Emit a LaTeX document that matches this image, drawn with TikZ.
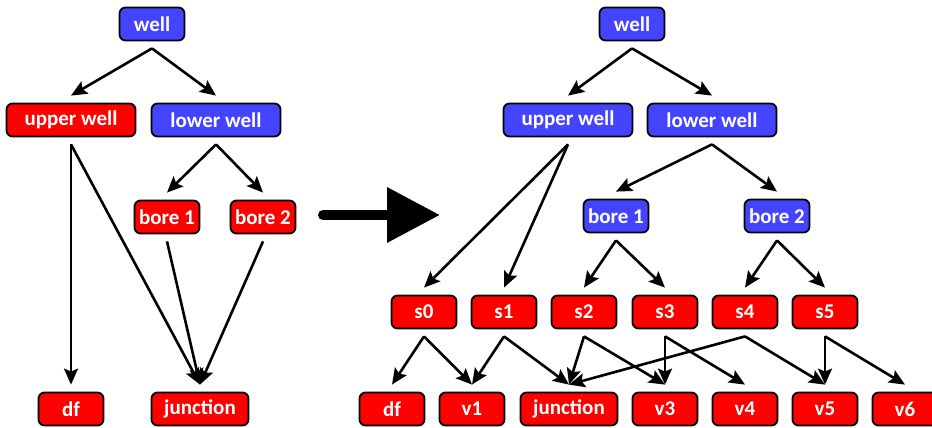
\documentclass[tikz,border=0pt]{standalone}
\usepackage{fontspec}
\setmainfont{Carlito}
\usetikzlibrary{arrows.meta, positioning}
\definecolor{boxblue}{RGB}{68,68,255}
\tikzstyle{box} = [rectangle, rounded corners=6pt, draw=black, line width=1.8pt, text=white, font=\bfseries\fontsize{21}{24}\selectfont, minimum height=33pt, minimum width=65pt, inner sep=0pt]
\tikzstyle{redbox} = [box, fill=red]
\tikzstyle{bluebox} = [box, fill=boxblue]
\tikzstyle{wide} = [minimum width=129pt]
\tikzstyle{link} = [line width=2.6pt, -{Stealth[length=16pt, width=14pt, inset=3pt]}]

% arrow from 7pt below one box to 7pt above the other
\newcommand{\link}[2]{\draw [link] ([yshift=-7pt]#1.south) -- ([yshift=7pt]#2.north);}

\begin{document}
\begin{tikzpicture}[x=1pt, y=-1pt]
    \useasboundingbox (0,0) rectangle (932,428);

    % Before: the old tree
    \node (lwell) [bluebox] at (152,24) {well};
    \node (lupper) [redbox, wide] at (71,120) {upper well};
    \node (llower) [bluebox, wide] at (216,120) {lower well};
    \node (lbore1) [redbox] at (167,217) {bore 1};
    \node (lbore2) [redbox] at (263,217) {bore 2};
    \node (ldf) [redbox] at (71,409) {df};
    \node (ljunc) [redbox, minimum width=97pt] at (200,409) {junction};

    \link{lwell}{lupper}
    \link{lwell}{llower}
    \link{llower}{lbore1}
    \link{llower}{lbore2}
    \link{lupper}{ldf}
    \link{lupper}{ljunc}
    \link{lbore1}{ljunc}
    \link{lbore2}{ljunc}

    % Big arrow in between
    \coordinate (from) at (323,215);
    \coordinate (to) at (440,215);
    \draw [line width=10pt, line cap=round, -{Triangle[length=53pt, width=53pt]}] (from) -- (to);

    % After: the new tree
    \node (rwell) [bluebox] at (632,24) {well};
    \node (rupper) [bluebox, wide] at (568,120) {upper well};
    \node (rlower) [bluebox, wide] at (712,120) {lower well};
    \node (rbore1) [bluebox] at (616,216) {bore 1};
    \node (rbore2) [bluebox] at (777,216) {bore 2};
    \node (s0) [redbox] at (424,312) {s0};
    \node (s1) [redbox] at (504,312) {s1};
    \node (s2) [redbox] at (584,312) {s2};
    \node (s3) [redbox] at (665,312) {s3};
    \node (s4) [redbox] at (745,312) {s4};
    \node (s5) [redbox] at (825,312) {s5};
    \node (rdf) [redbox] at (392,409) {df};
    \node (v1) [redbox] at (472,409) {v1};
    \node (rjunc) [redbox, minimum width=97pt] at (569,409) {junction};
    \node (v3) [redbox] at (665,409) {v3};
    \node (v4) [redbox] at (745,409) {v4};
    \node (v5) [redbox] at (825,409) {v5};
    \node (v6) [redbox] at (905,409) {v6};

    \link{rwell}{rupper}
    \link{rwell}{rlower}
    \link{rupper}{s0}
    \link{rupper}{s1}
    \link{rlower}{rbore1}
    \link{rlower}{rbore2}
    \link{rbore1}{s2}
    \link{rbore1}{s3}
    \link{rbore2}{s4}
    \link{rbore2}{s5}
    \link{s0}{rdf}
    \link{s0}{v1}
    \link{s1}{v1}
    \link{s1}{rjunc}
    \link{s2}{rjunc}
    \link{s2}{v3}
    \link{s3}{v3}
    \link{s3}{v4}
    \link{s4}{rjunc}
    \link{s4}{v5}
    \link{s5}{v5}
    \link{s5}{v6}
\end{tikzpicture}
\end{document}
